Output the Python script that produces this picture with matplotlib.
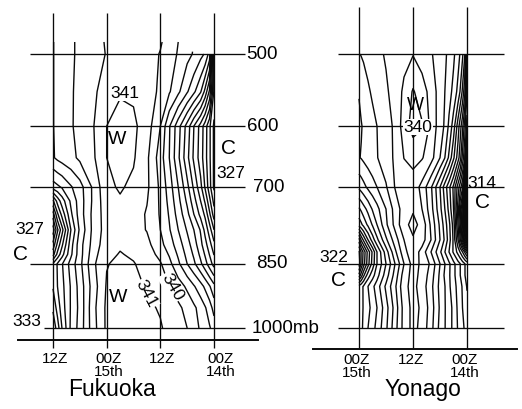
import numpy as np
import matplotlib
matplotlib.use("Agg")
import matplotlib.pyplot as plt
from matplotlib import font_manager

# equivalent potential temperature (K) read off the two time-height sections
# hours counted from 00Z 14th, pressure in mb; nan = no analysis drawn there
nan = np.nan
fuk_hours = [0, 1, 2, 3, 4.5, 6, 8, 10, 12, 15, 18, 21, 24, 27, 30, 32, 34, 35, 36]
fuk_press = [485, 500, 550, 600, 650, 700, 725, 750, 780, 810, 830, 850, 900, 950, 1000]
fuk_theta = [
    [nan, nan, nan, nan, nan, 338.4, 339.0, 339.6, 340.1, 340.5, 340.6, 340.5, 340.1, 339.6, 339.2, 338.85, 338.5, 338.3, 337.95],
    [327.5, 335.6, 336.9, 337.3, 337.9, 338.3, 338.9, 339.5, 339.95, 340.4, 340.6, 340.5, 340.05, 339.6, 339.2, 338.85, 338.5, 338.3, 337.95],
    [327.8, 331.8, 333.7, 335.1, 336.2, 337.1, 338.2, 339.1, 339.8, 340.5, 340.85, 340.9, 340.5, 339.8, 339.25, 338.9, 338.5, 338.3, 337.95],
    [326.8, 328.2, 329.5, 330.6, 332.0, 333.6, 335.4, 337.1, 339.0, 340.5, 341.2, 341.4, 341.0, 339.95, 339.3, 338.9, 338.5, 338.3, 337.95],
    [326.8, 328.2, 329.4, 330.5, 331.8, 333.3, 335.2, 337.0, 338.5, 340.2, 341.1, 341.4, 341.0, 339.85, 339.2, 338.7, 338.4, 338.2, 337.9],
    [326.8, 328.4, 329.9, 331.3, 332.8, 334.3, 336.0, 337.5, 338.8, 340.2, 340.8, 341.1, 340.8, 339.2, 337.6, 336.9, 336.1, 335.8, 335.5],
    [327.65, 329.3, 330.85, 332.0, 333.4, 334.8, 336.3, 337.7, 338.85, 340.05, 340.65, 340.9, 340.65, 339.2, 337.5, 336.2, 334.5, 333.4, 331.8],
    [328.5, 330.2, 331.8, 332.7, 334.0, 335.3, 336.6, 337.9, 338.9, 339.9, 340.5, 340.7, 340.5, 339.3, 337.5, 335.8, 333.3, 331.8, 329.5],
    [330.0, 331.5, 332.7, 333.9, 335.0, 335.9, 337.0, 338.1, 339.0, 339.95, 340.4, 340.6, 340.45, 339.3, 337.2, 335.0, 331.6, 329.8, 327.4],
    [331.3, 332.4, 333.4, 334.3, 335.5, 336.4, 337.5, 338.5, 339.3, 340.3, 340.7, 340.9, 340.6, 339.4, 337.6, 335.6, 332.8, 331.3, 329.3],
    [331.95, 332.95, 333.9, 334.75, 335.85, 336.7, 337.85, 338.9, 339.7, 340.5, 340.88, 341.05, 340.78, 339.6, 337.6, 335.8, 333.6, 332.3, 330.6],
    [332.6, 333.5, 334.4, 335.2, 336.2, 337.0, 338.2, 339.3, 340.1, 340.7, 341.05, 341.2, 340.95, 339.8, 337.7, 336.4, 334.9, 334.1, 333.1],
    [335.3, 336.1, 336.8, 337.4, 338.1, 338.8, 339.5, 340.0, 340.5, 340.9, 341.3, 341.4, 341.1, 339.5, 337.4, 336.1, 334.7, 334.0, 333.1],
    [336.6, 337.5, 338.1, 338.6, 339.2, 339.7, 340.2, 340.5, 340.9, 341.2, 341.4, 341.5, 341.2, 339.7, 337.3, 336.1, 334.5, 333.4, 332.2],
    [337.6, 338.1, 338.6, 338.9, 339.3, 340.0, 340.35, 340.7, 341.1, 341.4, 341.6, 341.6, 341.2, 339.6, 337.4, 336.2, 334.0, 332.5, 331.2],
]

yon_hours = [0, 0.5, 1, 1.5, 2, 3, 4, 5, 6, 8, 10, 12, 14, 16, 18, 20, 21, 22, 23, 23.5, 24]
yon_press = [500, 550, 600, 650, 700, 740, 770, 800, 825, 850, 875, 900, 950, 1000]
yon_theta = [
    [329.0, 333.1, 334.2, 334.9, 335.4, 336.2, 336.75, 337.2, 337.5, 338.1, 338.5, 338.95, 338.7, 338.4, 338.1, 337.75, 337.55, 337.35, 337.15, 337.05, 336.95],
    [328.0, 331.3, 332.8, 333.9, 334.7, 335.7, 336.4, 337.05, 337.55, 338.6, 339.5, 340.1, 339.2, 338.4, 337.85, 337.4, 337.15, 336.85, 336.45, 336.25, 336.05],
    [326.5, 328.5, 330.3, 331.4, 332.5, 334.5, 335.8, 336.9, 337.5, 338.7, 340.1, 340.4, 339.5, 338.2, 337.55, 337.0, 336.7, 336.4, 336.1, 335.95, 335.8],
    [319.0, 327.2, 328.7, 330.4, 331.5, 333.2, 334.8, 336.1, 337.0, 338.4, 339.08, 339.25, 339.02, 338.15, 337.55, 336.95, 336.7, 336.45, 336.2, 336.05, 335.95],
    [314.5, 320.5, 325.2, 326.4, 327.5, 329.8, 331.3, 332.6, 334.0, 336.15, 337.7, 338.6, 338.4, 338.05, 336.9, 336.0, 335.6, 335.2, 334.7, 334.45, 334.2],
    [314.0, 318.0, 321.5, 324.0, 326.5, 330.0, 331.7, 333.1, 334.3, 336.4, 338.0, 338.9, 338.5, 337.4, 336.0, 334.7, 334.1, 333.3, 332.6, 332.2, 331.85],
    [314.5, 318.5, 322.0, 325.0, 327.0, 330.6, 332.3, 333.6, 334.8, 336.8, 338.75, 339.25, 338.75, 337.3, 335.8, 334.0, 333.1, 332.2, 331.3, 330.8, 330.35],
    [317.5, 320.5, 323.5, 326.0, 328.0, 330.8, 332.5, 333.9, 335.0, 337.0, 338.5, 338.9, 338.0, 336.5, 334.8, 332.75, 331.5, 330.0, 328.2, 327.2, 325.5],
    [325.5, 326.9, 328.0, 328.9, 329.65, 330.85, 332.0, 333.1, 334.2, 336.0, 337.6, 338.7, 337.65, 335.75, 333.5, 331.0, 329.2, 327.4, 325.25, 324.1, 322.8],
    [329.6, 330.05, 330.5, 331.0, 331.4, 332.3, 333.2, 334.1, 335.0, 336.8, 337.8, 338.4, 337.0, 335.0, 333.0, 331.0, 329.4, 327.6, 325.5, 324.2, 322.3],
    [329.6, 330.05, 330.5, 331.0, 331.4, 332.3, 333.15, 333.9, 334.8, 336.5, 337.7, 338.35, 337.5, 335.4, 333.5, 331.6, 330.6, 329.5, 327.75, 326.5, 325.3],
    [329.9, 330.5, 330.9, 331.3, 331.7, 332.4, 333.2, 334.1, 334.7, 336.3, 337.55, 338.3, 337.75, 335.8, 334.2, 332.5, 331.75, 331.0, 330.1, 329.7, 329.3],
    [330.4, 330.7, 331.0, 331.4, 331.8, 332.7, 333.5, 334.1, 334.85, 336.5, 337.85, 338.3, 337.4, 335.4, 333.6, 332.0, 331.35, 330.7, 330.07, 329.75, 329.4],
    [330.7, 330.9, 331.2, 331.6, 331.9, 332.75, 333.4, 334.1, 334.7, 336.35, 337.7, 338.3, 337.4, 335.6, 333.8, 332.3, 331.65, 331.0, 330.2, 329.75, 329.5],
]

press_ticks = [500, 600, 700, 850, 1000]
press_labels = ["500", "600", "700", "850", "1000mb"]
fuk_times = [36, 24, 12, 0]
fuk_time_labels = ["12Z", "00Z\n15th", "12Z", "00Z\n14th"]
yon_times = [24, 12, 0]
yon_time_labels = ["00Z\n15th", "12Z", "00Z\n14th"]
theta_levels = np.arange(314, 342)


def pick_font(names):
    for n in names:
        try:
            font_manager.findfont(n, fallback_to_default=False)
            return n
        except ValueError:
            pass
    return "DejaVu Sans"


plt.rcParams["font.family"] = pick_font(["Liberation Sans Narrow", "Liberation Sans", "DejaVu Sans"])

W, H = 522, 409
fig = plt.figure(figsize=(W / 100, H / 100), dpi=100)

# y pixel = A + B*ln(p)
A, B = -2402.6, 395.3


def y_of(p):
    return A + B * np.log(p)


def p_of(y):
    return np.exp((y - A) / B)


# (left px, right px, px of 00Z 14th, px per hour)
FUK = (0, 262, 214.0, 161.0 / 36)
YON = (262, 522, 467.0, 108.0 / 24)


def x_of(t, geo):
    return geo[2] - geo[3] * t


def panel(geo, hours, press, theta):
    x0, x1, tz, k = geo
    ax = fig.add_axes([x0 / W, 0, (x1 - x0) / W, 1])
    ax.set_xlim((tz - x0) / k, (tz - x1) / k)
    ax.set_yscale("log")
    ax.set_ylim(p_of(H), p_of(0))
    ax.axis("off")
    z = np.ma.masked_invalid(np.array(theta, dtype=float))
    ax.contour(hours, press, z, levels=theta_levels,
               colors="#0a0a0a", linewidths=1.0)
    return ax


panel(FUK, fuk_hours, fuk_press, fuk_theta)
panel(YON, yon_hours, yon_press, yon_theta)

ov = fig.add_axes([0, 0, 1, 1])
ov.set_xlim(0, W)
ov.set_ylim(H, 0)
ov.axis("off")

lk = dict(color="#0a0a0a", lw=0.95, solid_capstyle="butt")
# horizontal pressure lines
for p in press_ticks:
    y = y_of(p)
    ov.plot([44 if p == 1000 else 30, 245], [y, y], **lk)
    ov.plot([338, 504], [y, y], **lk)
# time lines
for t in fuk_times:
    x = x_of(t, FUK)
    ov.plot([x, x], [13, 348], **lk)
for t in yon_times:
    x = x_of(t, YON)
    ov.plot([x, x], [7, 348], **lk)
# base lines
ov.plot([18, 258], [340, 340], color="#0a0a0a", lw=1.4)
ov.plot([313, 517], [349, 349], color="#0a0a0a", lw=1.4)

# pressure labels between the panels
for p, lab, x in zip(press_ticks, press_labels, [246, 247, 253, 256, 252]):
    ov.text(x, y_of(p), lab, fontsize=13.5, ha="left", va="center")

# time labels
for t, lab in zip(fuk_times, fuk_time_labels):
    x = x_of(t, FUK) + (7 if t == 0 else 2)
    ov.text(x, 352, lab, fontsize=11, ha="center", va="top", linespacing=0.9)
for t, lab in zip(yon_times, yon_time_labels):
    ov.text(x_of(t, YON) - 2, 353, lab, fontsize=11, ha="center", va="top", linespacing=0.9)

ov.text(112, 396, "Fukuoka", fontsize=16.5, ha="center", va="baseline")
ov.text(423, 396, "Yonago", fontsize=16.5, ha="center", va="baseline")

# marks on the sections
white = dict(boxstyle="square,pad=0.05", fc="white", ec="none")
num = dict(fontsize=12.5, ha="center", va="center")
ov.text(125, 93, "341", bbox=white, **num)
ov.text(117, 140, "W", fontsize=14, ha="center", va="center")
ov.text(229, 149, "C", fontsize=15, ha="center", va="center")
ov.text(231, 173, "327", **num)
ov.text(30, 230, "327", **num)
ov.text(20, 254, "C", fontsize=15, ha="center", va="center")
ov.text(118, 297, "W", fontsize=14, ha="center", va="center")
ov.text(146, 294, "341", rotation=-62, bbox=white, **num)
ov.text(172, 287, "340", rotation=-60, bbox=white, **num)
ov.text(27, 321, "333", **num)

ov.text(415, 106, "W", fontsize=13, ha="center", va="center")
ov.text(418, 127, "340", bbox=white, **num)
ov.text(482, 183, "314", **num)
ov.text(483, 203, "C", fontsize=15, ha="center", va="center")
ov.text(334, 258, "322", **num)
ov.text(338, 280, "C", fontsize=15, ha="center", va="center")

fig.savefig("out.png", dpi=100, facecolor="white")
